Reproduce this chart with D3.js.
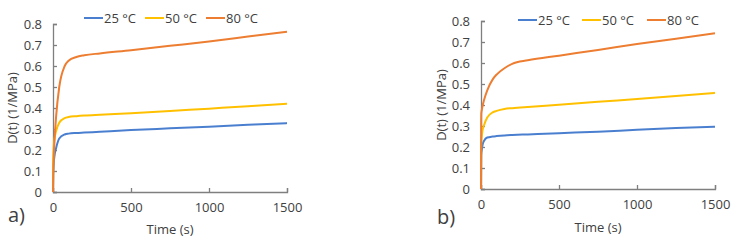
<!DOCTYPE html>
<html><head><meta charset="utf-8">
<script src="https://cdn.jsdelivr.net/npm/d3@7"></script>
<style>body{margin:0;background:#fff}svg{display:block}text{font-family:"Open Sans",sans-serif;fill:#404040}</style>
</head><body><svg id="c" width="737" height="241"></svg>
<script>
const times = [0,1,2,5,10,20,40,75,100,150,200,300,500,750,1000,1250,1500];
const seriesNames = ["25 °C","50 °C","80 °C"];
const colors = ["#4a7fd0","#ffc000","#ed7d31"];
const xTicks = [0,500,1000,1500];
const yTicks = [0,0.1,0.2,0.3,0.4,0.5,0.6,0.7,0.8];
const panelLabels = ["a)","b)"];
// panel a
const a25 = [0,0.08,0.1,0.14,0.175,0.21,0.255,0.274,0.278,0.281,0.283,0.287,0.295,0.303,0.311,0.32,0.328];
const a50 = [0,0.15,0.18,0.22,0.255,0.29,0.33,0.352,0.357,0.361,0.364,0.368,0.375,0.386,0.397,0.408,0.42];
const a80 = [0,0.05,0.1,0.17,0.25,0.36,0.5,0.6,0.625,0.643,0.651,0.66,0.675,0.696,0.717,0.74,0.763];
// panel b
const b25 = [0,0.15,0.17,0.185,0.21,0.23,0.245,0.25,0.252,0.255,0.257,0.26,0.266,0.273,0.282,0.29,0.297];
const b50 = [0,0.2,0.23,0.25,0.28,0.305,0.34,0.365,0.372,0.381,0.385,0.391,0.401,0.415,0.429,0.443,0.458];
const b80 = [0,0.3,0.36,0.375,0.395,0.425,0.47,0.522,0.545,0.575,0.596,0.613,0.635,0.662,0.69,0.716,0.742];

const svg = d3.select("#c");
const FS = 13;
const panels = [
  {data:[a25,a50,a80], x0:53, x1:287, y0:192, y1:24, label:panelLabels[0], lx:8, ly:222, ytx:12, yty:108, xtY:234, legY:18, legX:[84,145,206]},
  {data:[b25,b50,b80], x0:481, x1:715, y0:189, y1:21, label:panelLabels[1], lx:437, ly:224, ytx:441, yty:105, xtY:232, legY:20, legX:[518,582,647]}
];
panels.forEach(p=>{
  const g = svg.append("g");
  const x = d3.scaleLinear().domain([0,1500]).range([p.x0,p.x1]);
  const y = d3.scaleLinear().domain([0,0.8]).range([p.y0,p.y1]);
  const xa = g.append("g").attr("transform",`translate(0,${p.y0})`)
    .call(d3.axisBottom(x).tickValues(xTicks).tickSize(-4).tickPadding(11).tickFormat(d3.format("d")));
  const ya = g.append("g").attr("transform",`translate(${p.x0},0)`)
    .call(d3.axisLeft(y).tickValues(yTicks).tickSize(-4).tickPadding(11).tickFormat(d=>d===0?"0":d3.format(".1f")(d)));
  [xa,ya].forEach(a=>{
    a.select(".domain").attr("stroke","#7f7f7f").attr("stroke-width",1.3);
    a.selectAll(".tick line").attr("stroke","#7f7f7f").attr("stroke-width",1.3);
    a.selectAll("text").attr("font-size",FS).attr("fill","#404040").attr("font-family","'Open Sans',sans-serif");
  });
  const line = d3.line().x((d,i)=>x(times[i])).y(d=>y(d)).curve(d3.curveMonotoneX);
  p.data.forEach((s,k)=>{
    g.append("path").datum(s).attr("d",line).attr("fill","none").attr("stroke",colors[k]).attr("stroke-width",2);
    g.append("line").attr("x1",p.legX[k]).attr("x2",p.legX[k]+19).attr("y1",p.legY).attr("y2",p.legY)
      .attr("stroke",colors[k]).attr("stroke-width",2);
    g.append("text").attr("x",p.legX[k]+20).attr("y",p.legY+4.5).attr("font-size",FS).text(seriesNames[k]);
  });
  g.append("text").attr("x",(p.x0+p.x1)/2).attr("y",p.xtY).attr("text-anchor","middle").attr("font-size",FS).text("Time (s)");
  g.append("text").attr("transform",`translate(${p.ytx},${p.yty}) rotate(-90)`).attr("text-anchor","middle").attr("font-size",FS).attr("dy","0.35em").text("D(t) (1/MPa)");
  g.append("text").attr("x",p.lx).attr("y",p.ly).attr("font-size",20).attr("fill","#222").text(p.label);
});
</script></body></html>
